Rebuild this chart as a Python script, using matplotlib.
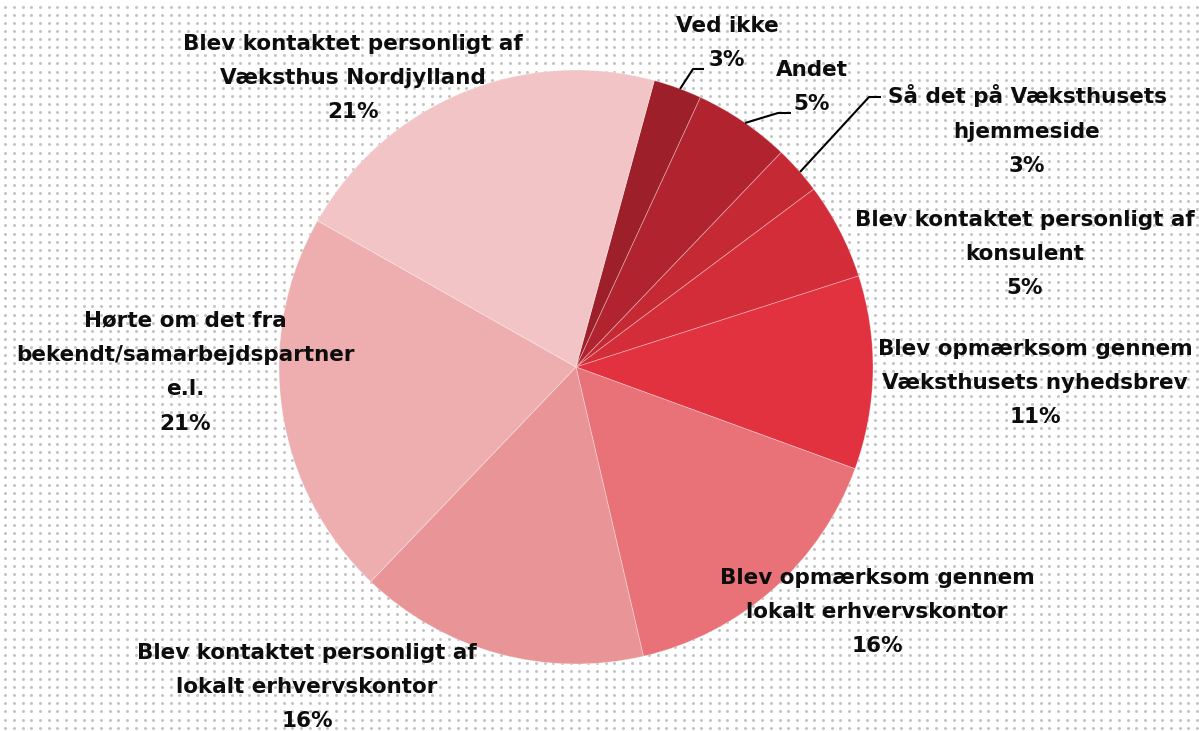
import numpy as np
import matplotlib.pyplot as plt

# answers, clockwise from the top
labels = [
    'Ved ikke',
    'Andet',
    'Så det på Væksthusets\nhjemmeside',
    'Blev kontaktet personligt af\nkonsulent',
    'Blev opmærksom gennem\nVæksthusets nyhedsbrev',
    'Blev opmærksom gennem\nlokalt erhvervskontor',
    'Blev kontaktet personligt af\nlokalt erhvervskontor',
    'Hørte om det fra\nbekendt/samarbejdspartner\ne.l.',
    'Blev kontaktet personligt af\nVæksthus Nordjylland',
]
counts = [1, 2, 1, 2, 4, 6, 6, 8, 8]
colors = ['#9c1f29', '#b1242f', '#c52933', '#d42d3a', '#e2313f',
          '#e87277', '#e99597', '#eeaeaf', '#f2c4c6']

# label centres (px, image coords) and leader lines
label_pos = [(727, 43), (812, 87), (1027, 130), (1025, 254), (1035, 383),
             (877, 612), (307, 687), (185, 372), (353, 78)]
leaders = {
    0: [(680, 89), (693, 69), (704, 69)],
    1: [(745, 123), (778, 113), (791, 113)],
    2: [(800, 172), (869, 97), (881, 97)],
}

W, H = 1199, 731
fig = plt.figure(figsize=(W / 100, H / 100), dpi=100)
ax = fig.add_axes([0, 0, 1, 1])

# dotted background
gx, gy = np.meshgrid(np.arange(5.3, W, 8.7), np.arange(6.7, H, 8.1))
ax.scatter(gx.ravel(), H - gy.ravel(), s=4.5, color='#c2c2c2', linewidths=0, zorder=0)

cx, cy, r = 576, H - 367, 297
ax.pie(counts, colors=colors, startangle=90 - 15.3, counterclock=False,
       center=(cx, cy), radius=r, frame=True,
       wedgeprops=dict(edgecolor=(1, 1, 1, 0.35), linewidth=0.6, zorder=1))
ax.set_xlim(0, W)
ax.set_ylim(0, H)
ax.set_aspect('equal')
ax.axis('off')

total = sum(counts)
for i, (lab, c) in enumerate(zip(labels, counts)):
    pct = round(100 * c / total)
    x, y = label_pos[i]
    ax.text(x, H - y, f'{lab}\n{pct}%', ha='center', va='center', multialignment='center',
            fontsize=15.5, fontweight='bold', family='DejaVu Sans',
            linespacing=1.9, color='#0d0d0d', zorder=5)

for i, pts in leaders.items():
    xs = [p[0] for p in pts]
    ys = [H - p[1] for p in pts]
    ax.plot(xs, ys, color='black', linewidth=1.5, zorder=4, solid_capstyle='butt')

fig.savefig('out.png', dpi=100, facecolor='white')
